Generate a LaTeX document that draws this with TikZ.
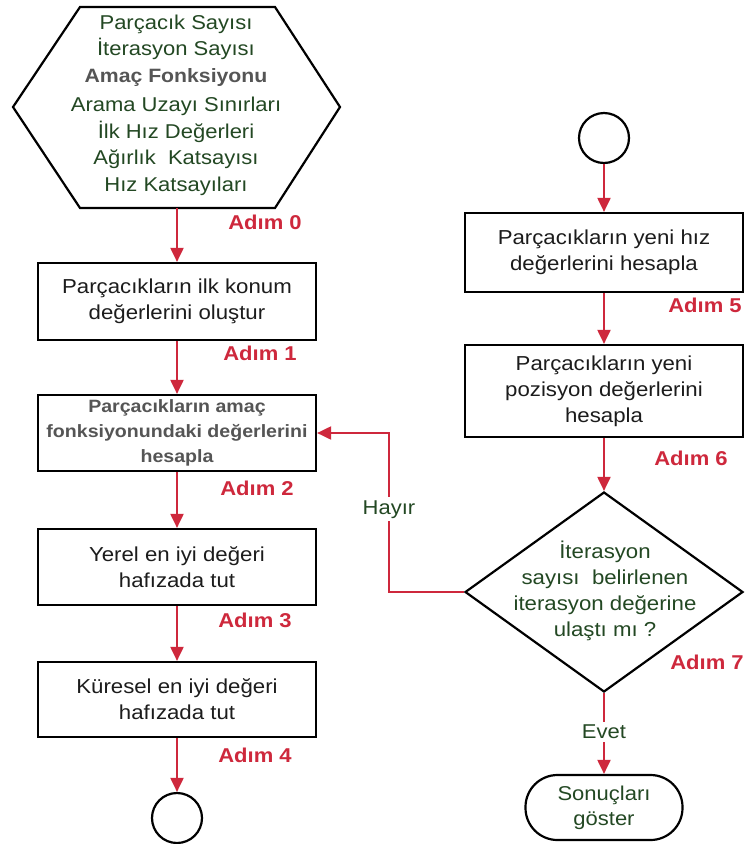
\documentclass[tikz,border=0pt]{standalone}
\usepackage{fontspec}
\setmainfont{Liberation Sans}[FakeStretch=1.1]
\usetikzlibrary{arrows.meta,shapes.geometric}

\definecolor{stepred}{RGB}{206,40,60}
\definecolor{paramgreen}{RGB}{35,72,35}
\definecolor{labelgray}{RGB}{85,85,85}
\definecolor{boxtext}{RGB}{28,28,28}

\tikzset{
  outline/.style={draw=black, line width=2.2pt},
  procbox/.style={outline, rectangle, minimum width=278pt, inner sep=0pt,
    text=boxtext, align=center, font=\fontsize{20.2}{26}\selectfont},
  endpoint/.style={outline, circle, minimum size=50pt, inner sep=0pt},
  steplabel/.style={text=stepred, inner sep=0pt, font=\bfseries\fontsize{20}{24}\selectfont},
  greentext/.style={text=paramgreen, align=center, inner sep=0pt, font=\fontsize{20}{26.5}\selectfont},
  flow/.style={draw=stepred, line width=2pt, -{Triangle[length=14pt,width=13pt]}},
  branch/.style={fill=white, inner sep=3pt, text=paramgreen, font=\fontsize{20}{24}\selectfont},
}

\begin{document}
\begin{tikzpicture}[x=1pt, y=-1pt]
  \fill[white] (0,0) rectangle (746,844);
  \useasboundingbox (0,0) rectangle (746,844);

  % input parameters (hexagon)
  \draw[outline, line join=miter] (80,7) -- (275,7) -- (340,107) -- (275,208) -- (80,208) -- (13,107) -- cycle;
  \coordinate (hexbot) at (177,208);
  \node[greentext] (params) at (176,105)
    {Parçacık Sayısı\\ İterasyon Sayısı\\
     {\color{labelgray}\bfseries\fontsize{19.3}{26.5}\selectfont Amaç Fonksiyonu}\\[3pt]
     Arama Uzayı Sınırları\\ İlk Hız Değerleri\\ Ağırlık\ \ Katsayısı\\ Hız Katsayıları};

  % left column
  \node[procbox, minimum height=77pt] (init) at (177,301.5)
    {Parçacıkların ilk konum\\ değerlerini oluştur};
  \node[procbox, minimum height=76pt, text=labelgray,
        font=\bfseries\fontsize{17.8}{25}\selectfont] (fitness) at (177,433)
    {Parçacıkların amaç\\ fonksiyonundaki değerlerini\\ hesapla};
  \node[procbox, minimum height=76pt] (local) at (177,567)
    {Yerel en iyi değeri\\ hafızada tut};
  \node[procbox, minimum height=75pt] (global) at (177,699.5)
    {Küresel en iyi değeri\\ hafızada tut};
  \node[endpoint] (leftend) at (177,818) {};

  \draw[flow] (hexbot) -- (init.north);
  \draw[flow] (init.south) -- (fitness.north);
  \draw[flow] (fitness.south) -- (local.north);
  \draw[flow] (local.south) -- (global.north);
  \draw[flow] (global.south) -- (leftend.north);

  \node[steplabel] (s0) at (265,222) {Adım 0};
  \node[steplabel] (s1) at (260,353) {Adım 1};
  \node[steplabel] (s2) at (257,488) {Adım 2};
  \node[steplabel] (s3) at (255,620) {Adım 3};
  \node[steplabel] (s4) at (255,755) {Adım 4};

  % right column
  \node[endpoint] (rightstart) at (604,138) {};
  \node[procbox, minimum height=79pt] (velocity) at (604,252.5)
    {Parçacıkların yeni hız\\ değerlerini hesapla};
  \node[procbox, minimum height=92pt] (position) at (604,391)
    {Parçacıkların yeni\\ pozisyon değerlerini\\ hesapla};
  \node[outline, diamond, minimum width=278pt, minimum height=200pt, inner sep=0pt] (check) at (604,592) {};
  \node[greentext, font=\fontsize{20.2}{26}\selectfont] (checktext) at (605,591)
    {İterasyon\\ sayısı\ \ belirlenen\\ iterasyon değerine\\ ulaştı mı ?};
  \node[outline, rectangle, rounded corners=32pt, minimum width=157pt, minimum height=65pt,
        inner sep=0pt, greentext, font=\fontsize{20}{25}\selectfont] (result) at (604,807.5)
    {Sonuçları\\ göster};

  \draw[flow] (rightstart.south) -- (velocity.north);
  \draw[flow] (velocity.south) -- (position.north);
  \draw[flow] (position.south) -- (check.north);
  \draw[flow] (check.south) -- node[branch, pos=0.48] (yes) {Evet} (result.north);
  \draw[flow] (check.west) -- (389,592) |- node[branch, pos=0.26] (no) {Hayır} (fitness.east);

  \node[steplabel] (s5) at (705,305) {Adım 5};
  \node[steplabel] (s6) at (691,458) {Adım 6};
  \node[steplabel] (s7) at (707,662) {Adım 7};
\end{tikzpicture}
\end{document}
